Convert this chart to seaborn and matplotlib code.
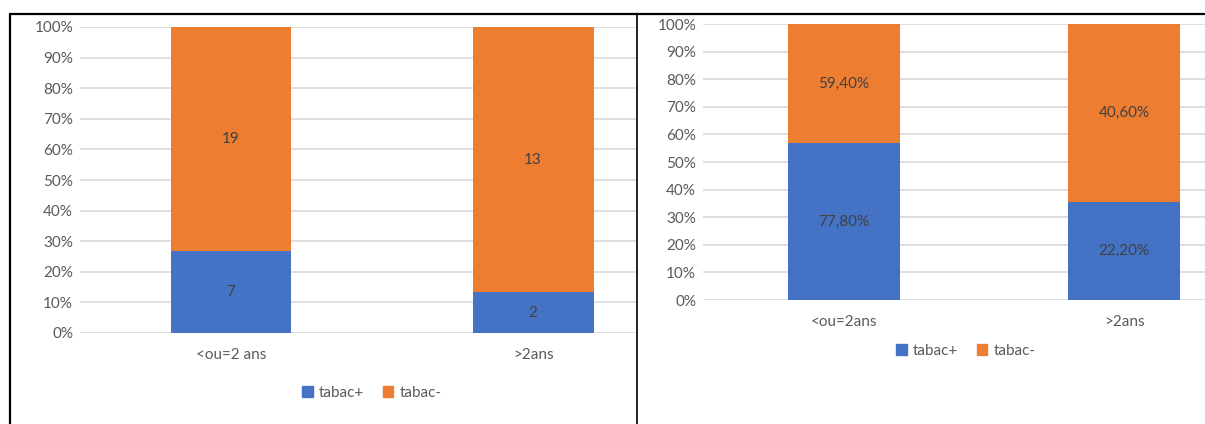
import numpy as np
import pandas as pd
import matplotlib
matplotlib.use('Agg')
import matplotlib.pyplot as plt
import seaborn as sns
from matplotlib.patches import Patch
from matplotlib.lines import Line2D

# Data
left_cats = ['<ou=2 ans', '>2ans']
left_plus = [7, 2]
left_minus = [19, 13]

right_cats = ['<ou=2ans', '>2ans']
right_plus = [77.8, 22.2]
right_minus = [59.4, 40.6]

series_names = ['tabac+', 'tabac-']
BLUE = '#4472C4'
ORANGE = '#ED7D31'
GREY = '#595959'
FS = 11

sns.set_style('white')
plt.rcParams['font.family'] = ['Lato', 'DejaVu Sans']


def fmt_pct(v):
    return f'{v:.2f}%'.replace('.', ',')


def stacked(ax, cats, plus, minus, labels_plus, labels_minus, xlim):
    plus = np.array(plus, dtype=float)
    minus = np.array(minus, dtype=float)
    total = plus + minus
    share_plus = plus / total * 100
    df = pd.DataFrame({'cat': cats, 'total': [100.0] * len(cats), 'plus': share_plus})
    sns.barplot(data=df, x='cat', y='total', color=ORANGE, width=0.4, ax=ax,
                saturation=1, zorder=3)
    sns.barplot(data=df, x='cat', y='plus', color=BLUE, width=0.4, ax=ax,
                saturation=1, zorder=3)
    for p in ax.patches:
        p.set_edgecolor('none')
    # labels centred in each segment
    for i in range(len(cats)):
        ax.text(i, share_plus[i] / 2, labels_plus[i], ha='center', va='center',
                color='#404040', fontsize=FS)
        ax.text(i, share_plus[i] + (100 - share_plus[i]) / 2, labels_minus[i],
                ha='center', va='center', color='#404040', fontsize=FS)
    ax.set_ylim(0, 100)
    ax.set_xlim(*xlim)
    ax.set_yticks(np.arange(0, 101, 10))
    ax.set_yticklabels([f'{v}%' for v in range(0, 101, 10)])
    ax.yaxis.grid(True, color='#D9D9D9', linewidth=1.2, zorder=0)
    ax.set_axisbelow(True)
    ax.set_xlabel('')
    ax.set_ylabel('')
    ax.tick_params(axis='both', length=0, labelsize=FS, colors=GREY, pad=5)
    ax.tick_params(axis='x', pad=11)
    for s in ax.spines.values():
        s.set_visible(False)


fig = plt.figure(figsize=(12.05, 4.24), dpi=100)
W, H = 1205, 424


def axes_px(x0, y0, x1, y1):
    return fig.add_axes([x0 / W, 1 - y1 / H, (x1 - x0) / W, (y1 - y0) / H])


ax1 = axes_px(80, 27, 637, 333)
stacked(ax1, left_cats, left_plus, left_minus,
        [str(v) for v in left_plus], [str(v) for v in left_minus],
        (-0.5, 1.344))
ax1.set_zorder(1)

ax2 = axes_px(703, 24, 1205, 300)
stacked(ax2, right_cats, right_plus, right_minus,
        [fmt_pct(v) for v in right_plus], [fmt_pct(v) for v in right_minus],
        (-0.504, 1.289))

handles = [Patch(color=BLUE, label=series_names[0]),
           Patch(color=ORANGE, label=series_names[1])]
for cx, cy in [(372, 393), (966, 351)]:
    fig.legend(handles=handles, loc='center', bbox_to_anchor=(cx / W, 1 - cy / H),
               ncol=2, frameon=False, fontsize=FS, handlelength=0.7, handleheight=0.7,
               handletextpad=0.4, columnspacing=1.2, labelcolor=GREY)

# black frame lines of the screenshot
fig.add_artist(Line2D([10 / W, 1], [1 - 14 / H, 1 - 14 / H], color='black', lw=1.6))
fig.add_artist(Line2D([10 / W, 10 / W], [0, 1 - 14 / H], color='black', lw=1.6))
fig.add_artist(Line2D([637 / W, 637 / W], [0, 1 - 14 / H], color='black', lw=1.2))

fig.savefig('out.png', dpi=100)
